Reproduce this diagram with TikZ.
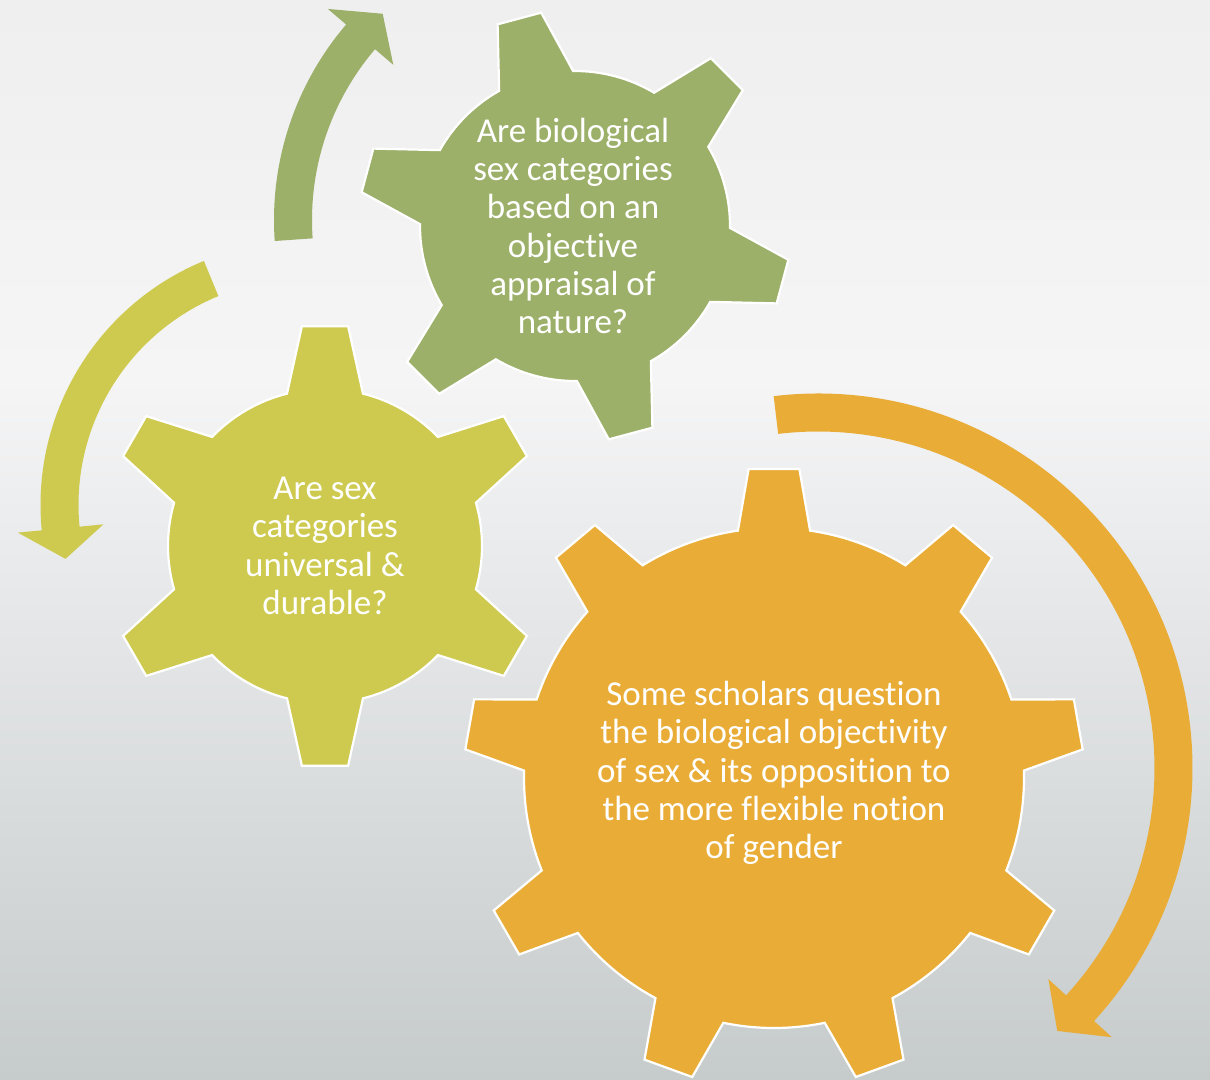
\documentclass[tikz,border=0pt]{standalone}
\usepackage{fontspec}
\setmainfont{Carlito}[RawFeature={-liga;-clig;-dlig;-calt}]

\definecolor{bgtop}{HTML}{EFEFEF}
\definecolor{bglight}{HTML}{F5F5F6}
\definecolor{bgmid}{HTML}{E1E3E3}
\definecolor{bgbot}{HTML}{C6CBCC}
\definecolor{cogolive}{HTML}{9CB06A}
\definecolor{coglime}{HTML}{CECA50}
\definecolor{cogamber}{HTML}{E9AD37}

\tikzset{
  cog line/.style={draw=white, line width=2.2pt, line join=miter},
  cog text/.style={text=white, align=center, font=\fontsize{35}{38.3}\selectfont},
}

% fill, centre, teeth, first tooth, outer r, inner r, tip half-angle, root half-angle
\newcommand\cog[8]{%
  \filldraw[cog line, fill=#1, shift={(#2)}] ({#4-#8}:#6)
    \foreach \k [evaluate=\k as \a using #4+(\k-1)*360/#3] in {1,...,#3} {
      -- ({\a-#7}:#5) -- ({\a+#7}:#5) -- ({\a+#8}:#6)
      arc[start angle=\a+#8, end angle=\a+360/#3-#8, radius=#6]
    } -- cycle;}

% fill, centre, from, to, tip angle, mid radius
\newcommand\bentarrow[6]{%
  \fill[#1, shift={(#2)}] ({#3}:{#6+19}) arc[start angle=#3, end angle=#4, radius=#6+19]
    -- ({#4}:{#6+43}) -- ({#5}:{#6}) -- ({#4}:{#6-43}) -- ({#4}:{#6-19})
    arc[start angle=#4, end angle=#3, radius=#6-19] -- cycle;}

\begin{document}
\begin{tikzpicture}[x=1pt, y=1pt]
  \useasboundingbox (0,0) rectangle (1210,-1079);
  \clip (0,0) rectangle (1210,-1079);

  % backdrop
  \shade[top color=bgtop, bottom color=bglight] (0,0) rectangle (1210,-380);
  \shade[top color=bglight, middle color=bgmid, bottom color=bgbot] (0,-380) rectangle (1210,-1079);

  \coordinate (olive) at (575,-226);
  \coordinate (lime)  at (325,-546);
  \coordinate (amber) at (774,-778);

  % turning arrows
  \bentarrow{cogolive}{575,-220}{184}{139.5}{133}{282}
  \bentarrow{coglime}{304.5,-505}{112.4}{185.5}{192.7}{245}
  \bentarrow{cogamber}{818,-768}{96.8}{-42.5}{-47.7}{355.5}

  % gears
  \cog{cogolive}{olive}{6}{45}{216}{155}{6}{14.3}
  \cog{coglime}{lime}{6}{90}{221}{157}{6}{14}
  \cog{cogamber}{amber}{9}{90}{310}{250}{4.7}{8.3}

  \node[cog text] (biology) at ([xshift=-2pt]olive)
    {Are biological\\sex categories\\based on an\\objective\\appraisal of\\nature?};
  \node[cog text] (universal) at (lime)
    {Are sex\\categories\\universal \&\\durable?};
  \node[cog text] (scholars) at ([yshift=5pt]amber)
    {Some scholars question\\the biological objectivity\\of sex \& its opposition to\\the more flexible notion\\of gender};
\end{tikzpicture}
\end{document}
